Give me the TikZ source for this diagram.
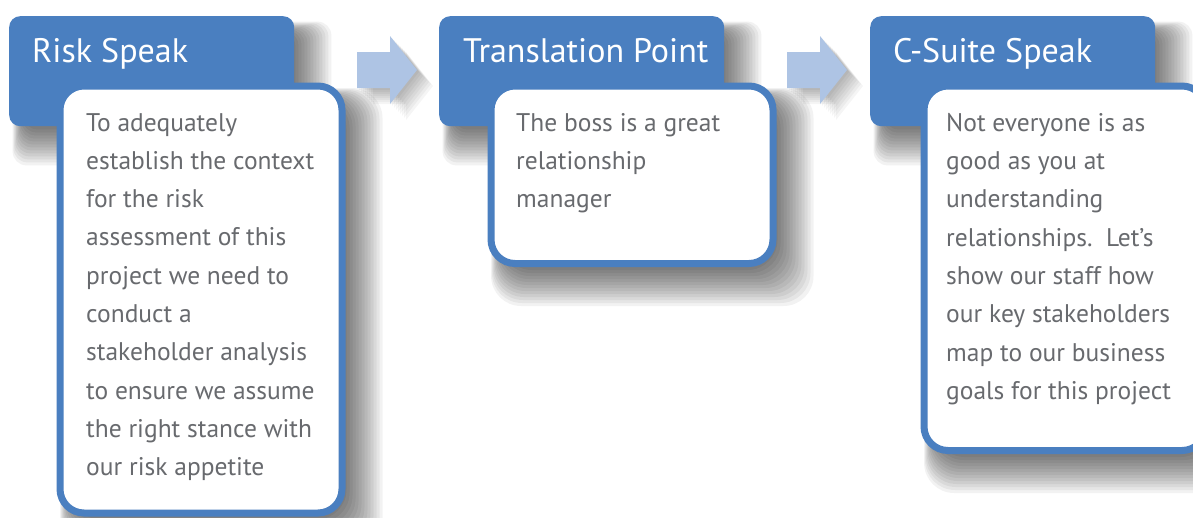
\documentclass[tikz,border=0pt]{standalone}
\usepackage{fontspec}
\setmainfont{PT Sans}
\definecolor{headblue}{RGB}{74,127,192}
\definecolor{flowblue}{RGB}{174,196,228}
\definecolor{bodygray}{RGB}{104,106,110}
\pgfdeclarelayer{paper}
\pgfdeclarelayer{shade}
\pgfsetlayers{paper,shade,main}
% soft shadow under a named box (down and to the right)
\newcommand{\softshade}[2]{%
  \foreach \e in {-8,-5,...,28}
    \fill[black, opacity=0.05, rounded corners=#2] ([shift={(12-0.3*\e,14-0.3*\e)}]#1.north west) rectangle ([shift={(9+\e,11+\e)}]#1.south east);}

\begin{document}
\begin{tikzpicture}[
    x=1pt, y=-1pt,
    head/.style={rectangle, fill=headblue, rounded corners=11pt, anchor=north west, minimum width=285pt, minimum height=110pt, inner sep=0pt},
    title/.style={font=\fontsize{34}{40}\selectfont, text=white, anchor=base west, inner sep=0pt},
    body/.style={rectangle, draw=headblue, line width=7pt, fill=white, rounded corners=24pt, anchor=north west, minimum width=282pt, inner sep=0pt},
    bodytext/.style={font=\fontsize{25.5}{38.3}\selectfont, text=bodygray, align=left, anchor=north west, inner sep=0pt},
    flow/.style={fill=flowblue}
]
\useasboundingbox (0,0) rectangle (1193,517);
\clip (0,0) rectangle (1193,517);
\begin{pgfonlayer}{paper}
  \fill[white] (0,0) rectangle (1193,517);
\end{pgfonlayer}

% Flow arrows
\foreach \x in {357,787} {
  \begin{pgfonlayer}{shade}
    \foreach \s in {2,4,...,16}
      \fill[black, opacity=0.04, shift={(\s,\s)}] (\x,52) -- (\x+33,52) -- (\x+33,36) -- (\x+60,70) -- (\x+33,104) -- (\x+33,88) -- (\x,88) -- cycle;
  \end{pgfonlayer}
  \fill[flow] (\x,52) -- (\x+33,52) -- (\x+33,36) -- (\x+60,70) -- (\x+33,104) -- (\x+33,88) -- (\x,88) -- cycle;
}

% Risk Speak
\node[head] (h1) at (9,16) {};
\node[title] (t1) at (32,62) {Risk Speak};
\node[body, minimum height=427pt] (b1) at (56.5,82.5) {};
\node[bodytext] (d1) at (86,113) {To adequately\\establish the context\\for the risk\\assessment of this\\project we need to\\conduct a\\stakeholder analysis\\to ensure we assume\\the right stance with\\our risk appetite};

% Translation Point
\node[head] (h2) at (439,16) {};
\node[title] (t2) at (463,62) {Translation Point};
\node[body, minimum height=177.5pt] (b2) at (487.5,82.5) {};
\node[bodytext] (d2) at (516,113) {The boss is a great\\relationship\\manager};

% C-Suite Speak
\node[head] (h3) at (870,16) {};
\node[title] (t3) at (893,62) {C-Suite Speak};
\node[body, minimum height=364.5pt] (b3) at (920.5,82.5) {};
\node[bodytext] (d3) at (946,113) {Not everyone is as\\good as you at\\understanding\\relationships.\ \ Let’s\\show our staff how\\our key stakeholders\\map to our business\\goals for this project};

% Shadows
\begin{pgfonlayer}{shade}
  \foreach \n in {h1,h2,h3} {\softshade{\n}{14pt}}
  \foreach \n in {b1,b2,b3} {\softshade{\n}{30pt}}
\end{pgfonlayer}
\end{tikzpicture}
\end{document}
